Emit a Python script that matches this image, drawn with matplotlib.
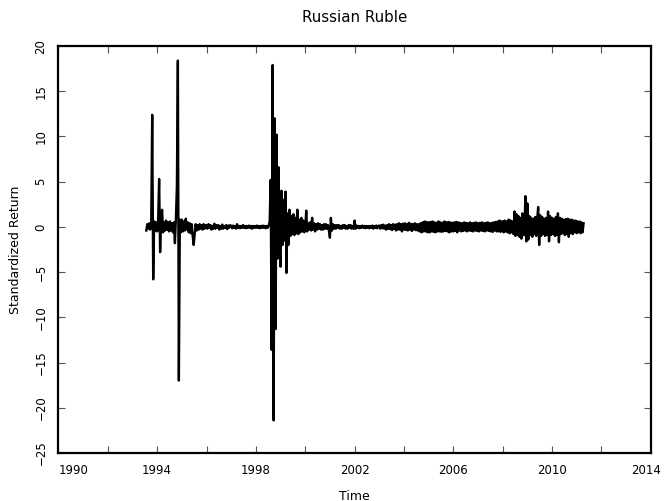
import numpy as np
import matplotlib
matplotlib.use("Agg")
import matplotlib.pyplot as plt
import matplotlib.transforms as mtransforms

start_year = 1993.56
step = 0.04

r1993 = [-0.4, 0.3, -0.2, 0.4, -0.3, 0.5, 12.4, -5.8, 0.6, -0.4, 0.5]
r1994 = [-0.5, 0.6, 5.3, -2.8, 0.7, 1.9, -0.6, 0.5, -0.4, 0.7, -0.3, 0.5, -0.5,
         0.6, -0.4, 0.4, -0.6, 0.5, -1.8, 0.9, 4.5, 18.4, -17.0, 0.8, -0.6]
r1995 = [0.8, -0.5, 0.6, -0.4, 0.9, -0.3, 0.5, -0.6, 0.4, -0.7, 0.3, -1.0, -2.0,
         -0.8, 0.3, -0.4, 0.2, -0.3, 0.3, -0.2, 0.2, -0.3, 0.3, -0.2, 0.2]
r1996 = [0.2, -0.2, 0.3, -0.1, 0.2, -0.3, 0.1, -0.2, 0.35, -0.2, 0.2, -0.1, 0.2,
         -0.3, 0.1, -0.2, 0.25, -0.2, 0.1, -0.1, 0.2, -0.25, 0.15, -0.1, 0.2]
r1997 = [0.1, -0.15, 0.15, -0.1, 0.1, -0.2, 0.3, -0.1, 0.1, -0.15, 0.1, -0.1, 0.2,
         -0.1, 0.1, -0.15, 0.1, -0.1, 0.15, -0.1, 0.1, -0.2, 0.1, -0.1, 0.1]
r1998 = [-0.1, 0.15, -0.1, 0.1, -0.15, 0.1, -0.1, 0.15, -0.1, 0.1, -0.15, 0.1, -0.1,
         0.15, 0.6, 5.2, -13.6, 17.9, -21.4, 12.0, -11.3, 10.2, -3.5, 6.6, -2.5]
r1999 = [-4.4, 4.0, -2.0, 3.0, -1.5, 3.9, -5.1, 1.5, -2.0, 1.9, -1.0, 1.2, -0.8,
         1.4, -0.9, 1.0, -0.7, 1.9, -0.8, 0.8, -0.6, 1.0, -0.5, 0.7, -0.6]
r2000 = [-0.4, 1.8, -0.5, 0.4, -0.3, 0.5, -0.4, 1.0, -0.3, 0.4, -0.5, 0.3, -0.3,
         0.4, -0.2, 0.3, -0.3, 0.2, -0.3, 0.3, -0.2, 0.3, -0.2, 0.2, -0.4]
r2001 = [-1.2, 1.0, -0.4, 0.3, -0.2, 0.2, -0.2, 0.2, -0.1, 0.2, -0.2, 0.1, -0.2,
         0.2, -0.1, 0.2, -0.2, 0.1, -0.2, 0.2, -0.1, 0.2, -0.2, 0.1, -0.2]
r2002 = [0.7, -0.2, 0.15, -0.1, 0.1, -0.15, 0.1, -0.1, 0.15, -0.1, 0.1, -0.15, 0.1,
         -0.1, 0.1, -0.15, 0.1, -0.1, 0.15, -0.2, 0.1, -0.1, 0.15, -0.15, 0.1]
r2003 = [0.15, -0.2, 0.2, -0.15, 0.25, -0.2, 0.15, -0.3, 0.2, -0.2, 0.3, -0.25, 0.2,
         -0.35, 0.3, -0.2, 0.25, -0.4, 0.3, -0.3, 0.4, -0.3, 0.3, -0.5, 0.35]
r2004 = [-0.3, 0.4, -0.35, 0.3, -0.4, 0.45, -0.3, 0.35, -0.45, 0.3, -0.3, 0.4, -0.35,
         0.3, -0.4, 0.3, -0.5, 0.4, -0.6, 0.5, -0.5, 0.6, -0.5, 0.55, -0.6]
r2005 = [0.5, -0.6, 0.55, -0.5, 0.6, -0.55, 0.5, -0.6, 0.45, -0.5, 0.6, -0.5, 0.5,
         -0.55, 0.45, -0.5, 0.6, -0.45, 0.5, -0.5, 0.55, -0.6, 0.5, -0.5, 0.45]
r2006 = [-0.5, 0.5, -0.45, 0.55, -0.6, 0.5, -0.4, 0.45, -0.5, 0.4, -0.45, 0.5, -0.4,
         0.45, -0.5, 0.4, -0.4, 0.5, -0.45, 0.4, -0.5, 0.45, -0.4, 0.5, -0.45]
r2007 = [0.4, -0.5, 0.45, -0.4, 0.5, -0.45, 0.4, -0.5, 0.45, -0.4, 0.5, -0.45, 0.4,
         -0.5, 0.45, -0.55, 0.5, -0.4, 0.55, -0.5, 0.6, -0.5, 0.7, -0.55, 0.6]
r2008 = [0.6, -0.6, 0.7, -0.5, 0.6, -0.6, 0.8, -0.7, 0.7, -0.6, 0.6, -0.8, 1.7,
         -1.0, 1.4, -0.9, 1.2, -1.1, 1.0, -1.3, 1.5, -0.9, -0.9, 3.4, -1.6]
r2009 = [2.6, -1.4, 1.2, -0.9, 1.0, -1.1, 0.9, -0.8, 1.1, -1.0, 0.9, 2.2, -2.0,
         1.3, -1.0, 1.1, -0.8, 0.9, -1.0, 1.0, -0.9, 1.7, -1.6, 1.2, -0.9]
r2010 = [1.0, -0.8, 0.9, -1.0, 1.1, -0.9, 1.5, -1.7, 1.0, -0.8, 0.9, -0.7, 0.8,
         -0.9, 0.85, -0.8, 0.9, -1.1, 0.8, -0.7, 0.8, -0.8, 0.7, -0.6, 0.7]
r2011 = [-0.7, 0.6, -0.6, 0.6, -0.7, 0.5, -0.6, 0.4]

returns = np.array(r1993 + r1994 + r1995 + r1996 + r1997 + r1998 + r1999 + r2000
                   + r2001 + r2002 + r2003 + r2004 + r2005 + r2006 + r2007 + r2008
                   + r2009 + r2010 + r2011)
time = start_year + step * np.arange(len(returns))

x_major = [1990, 1994, 1998, 2002, 2006, 2010, 2014]
x_minor = [1992, 1996, 2000, 2004, 2008, 2012]
y_ticks = [-25, -20, -15, -10, -5, 0, 5, 10, 15, 20]

plt.rcParams['font.family'] = 'DejaVu Sans'
plt.rcParams['font.size'] = 9

fig = plt.figure(figsize=(6.64, 5.01), dpi=100)
ax = fig.add_axes([0.088, 0.096, 0.892, 0.812])
ax.plot(time, returns, color='black', linewidth=1.7)

ax.set_xlim(1990, 2014)
ax.set_ylim(-25, 20)
ax.set_xticks(x_major)
ax.set_xticks(x_minor, minor=True)
ax.set_yticks(y_ticks)
for lab in ax.get_yticklabels():
    lab.set_rotation(90)
    lab.set_va('center')
ax.tick_params(which='both', direction='in', length=5, width=0.8,
               top=True, right=True, color='#555555', labelsize=8.5)
ax.tick_params(axis='x', pad=8)
ax.tick_params(axis='y', pad=8)
xlabs = ax.get_xticklabels()
xlabs[0].set_ha('left')
xlabs[-1].set_transform(xlabs[-1].get_transform()
                        + mtransforms.ScaledTranslation(-3 / 72, 0, fig.dpi_scale_trans))
for s in ax.spines.values():
    s.set_linewidth(1.6)

ax.set_title('Russian Ruble', pad=17)
ax.set_xlabel('Time', labelpad=9)
ax.set_ylabel('Standardized Return', labelpad=9)

fig.savefig('out.png', dpi=100)
plt.close(fig)
